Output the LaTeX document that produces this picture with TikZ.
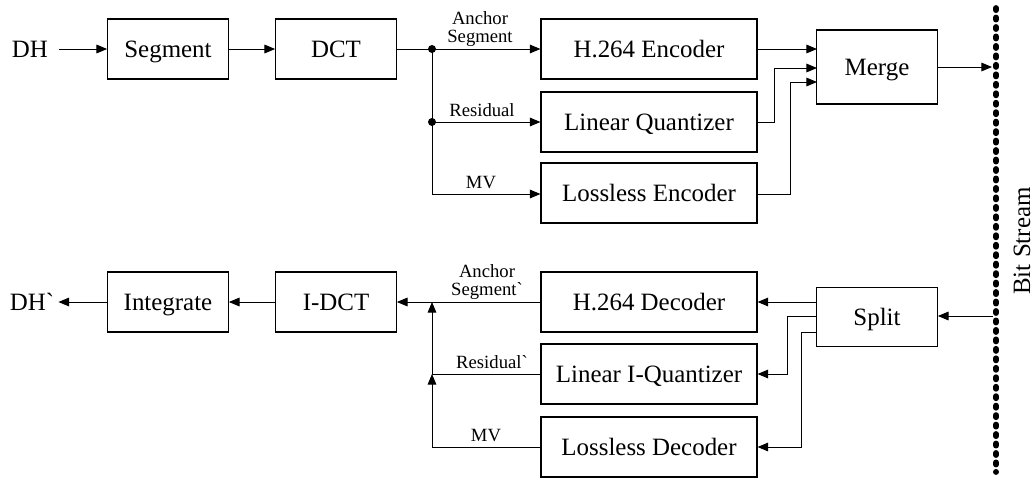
\documentclass[tikz,border=0pt]{standalone}
\usepackage{fontspec}
\setmainfont{Liberation Serif}[Ligatures=TeXOff]
\usetikzlibrary{arrows.meta}

\begin{document}
\begin{tikzpicture}[x=0.75pt,y=-0.75pt,
  block/.style={draw, line width=0.8pt, minimum width=90.5pt, minimum height=45pt, inner sep=0pt, text height=12.4pt, text depth=0pt, font=\fontsize{18.7}{22}\selectfont},
  wide/.style={block, minimum width=162pt},
  txt/.style={inner sep=2pt, font=\fontsize{18.7}{22}\selectfont},
  lbl/.style={inner sep=0pt, align=center, font=\fontsize{14}{13.5}\selectfont},
  arr/.style={line width=0.75pt, -{Triangle[length=8pt,width=6.5pt]}},
  wire/.style={line width=0.75pt}]
\useasboundingbox (0,0) rectangle (1035,479);

% encoder side
\node[txt, inner xsep=8pt] (dh) at (30,49) {DH};
\node[block] (seg) at (168,49) {Segment};
\node[block] (dct) at (336,49) {DCT};
\node[wide] (henc) at (649,49) {H.264 Encoder};
\node[wide] (lq) at (649,122) {Linear Quantizer};
\node[wide] (lenc) at (649,193) {Lossless Encoder};
\node[block, minimum height=55.5pt] (merge) at (877,67) {Merge};

% decoder side
\node[txt, inner xsep=3pt] (dhp) at (32,302) {DH`};
\node[block] (integ) at (168,302) {Integrate};
\node[block] (idct) at (336,302) {I-DCT};
\node[wide] (hdec) at (649,302) {H.264 Decoder};
\node[wide] (lqi) at (649,374) {Linear I-Quantizer};
\node[wide] (ldec) at (649,447) {Lossless Decoder};
\node[block, minimum height=44.25pt] (split) at (877,317) {Split};

% bit stream
\coordinate (bstop) at (996,8);
\coordinate (bsbot) at (996,472);
\draw[line width=4.3pt, line cap=round, dash pattern=on 1.6pt off 5.5pt] (bstop) -- (bsbot);
\node[txt, rotate=90] (bs) at (1022,241) {Bit Stream};

\coordinate (ja) at (432,49);
\coordinate (jb) at (432,122);
\coordinate (jc) at (432,194);
\coordinate (m1) at (817,49);
\coordinate (m2) at (817,68);
\coordinate (m3) at (817,82);
\coordinate (bsin) at (992,67);
\coordinate (bsout) at (993,316);
\coordinate (ka) at (432,302);
\coordinate (kb) at (432,374);

\draw[arr] (dh) -- (seg);
\draw[arr] (seg) -- (dct);
\draw[wire] (dct) -- (ja);
\draw[arr] (ja) -- (henc);
\draw[wire] (ja) -- (jc);
\draw[arr] (jb) -- (lq);
\draw[arr] (jc) -- (lenc.west |- jc);
\fill (ja) circle (3pt) (jb) circle (3pt);
\node[lbl, anchor=south] (la) at (480,47) {Anchor\\Segment};
\node[lbl, anchor=base] (lr) at (482,116) {Residual};
\node[lbl, anchor=base] (lm) at (481,188) {MV};

\draw[arr] (henc.east |- m1) -- (m1);
\draw[arr] (lq.east) -- (774,122) |- (m2);
\draw[arr] (lenc.east |- jc) -- (790,194) |- (m3);
\draw[arr] (merge) -- (bsin);

\draw[arr] (bsout) -- (split.east |- bsout);
\draw[arr] (split.west |- hdec) -- (hdec);
\draw[arr] (split.west |- bsout) -- (787,316) |- (lqi);
\draw[arr] (split.west |- 0,332) -- (801,332) |- (ldec);

\draw[arr] (hdec) -- (idct);
\draw[arr] (lqi) -| (ka);
\draw[arr] (ldec) -| (kb);
\draw[arr] (idct) -- (integ);
\draw[arr] (integ) -- (dhp);
\node[lbl, anchor=south] (la2) at (487,300) {Anchor\\Segment`};
\node[lbl, anchor=base] (lr2) at (492,368) {Residual`};
\node[lbl, anchor=base] (lm2) at (486,441) {MV};
\end{tikzpicture}
\end{document}
